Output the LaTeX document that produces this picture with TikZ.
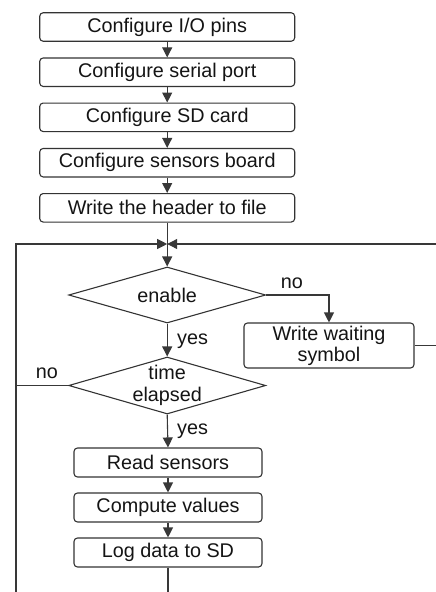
\documentclass[tikz,border=0pt]{standalone}
\usepackage{fontspec}
\setmainfont{Liberation Sans}
\usetikzlibrary{shapes.geometric,arrows.meta}
\begin{document}
\begin{tikzpicture}[x=1pt,y=-1pt,
  conn/.style={line width=1.1pt, draw=black!78},
  txt/.style={font=\fontsize{19.8}{22}\selectfont, text=black!92},
  box/.style={txt, draw=black!80, line width=1.1pt, rounded corners=3.5pt, inner sep=0pt, minimum width=255pt, minimum height=28.5pt},
  sbox/.style={box, minimum width=188pt, minimum height=29pt},
  dia/.style={diamond, draw=black!80, line width=1.1pt, inner sep=0pt, minimum width=197pt, minimum height=56pt},
  arr/.style={conn, -{Triangle[length=10pt,width=10pt]}},
  lbl/.style={txt, inner sep=0pt}
]
\useasboundingbox (0,0) rectangle (436,592);

\node[box] (b1) at (167.2,27) {Configure I/O pins};
\node[box] (b2) at (167.2,72.2) {Configure serial port};
\node[box] (b3) at (167.2,117.3) {Configure SD card};
\node[box] (b4) at (167.2,162.7) {Configure sensors board};
\node[box] (b5) at (167.2,207.8) {Write the header to file};

\coordinate (J) at (167.2,244);
\node[dia] (en) at (167.2,295) {};
\node[lbl] (entxt) at (en) {enable};

\node[box, minimum width=170pt, minimum height=45pt, align=center, font=\fontsize{19.8}{21}\selectfont] (ww) at (329,345.5) {Write waiting\\symbol};

\node[dia, minimum height=57pt] (te) at (167.2,385.5) {};
\node[lbl, align=center, font=\fontsize{19.8}{22}\selectfont] (tetxt) at (te) {time\\elapsed};

\node[sbox] (rs) at (168,462.5) {Read sensors};
\node[sbox] (cv) at (168,507.5) {Compute values};
\node[sbox] (ld) at (168,552.5) {Log data to SD};

\coordinate (LB) at (16,592);
\coordinate (LM) at (16,385.5);
\coordinate (RT) at (436,244);
\coordinate (RW) at (436,345.5);
\coordinate (DB) at (168,592);

\draw[arr] (b1) -- (b2);
\draw[arr] (b2) -- (b3);
\draw[arr] (b3) -- (b4);
\draw[arr] (b4) -- (b5);
\draw[arr] (b5.south) -- (en.north);
\draw[arr] (LB) |- (J);
\draw[arr] (RT) -- (J);
\draw[arr] (en.east) -| (ww.north);
\draw[conn] (ww.east) -- (RW);
\draw[arr] (en.south) -- (te.north);
\draw[conn] (te.west) -- (LM);
\draw[arr] (te.south) -- (rs.north);
\draw[arr] (rs) -- (cv);
\draw[arr] (cv) -- (ld);
\draw[conn] (ld.south) -- (DB);

\node[lbl] (no1) at (292,283.5) {no};
\node[lbl, anchor=west] (yes1) at (177,341) {yes};
\node[lbl] (no2) at (47,373.5) {no};
\node[lbl, anchor=west] (yes2) at (177,431.5) {yes};
\end{tikzpicture}
\end{document}
